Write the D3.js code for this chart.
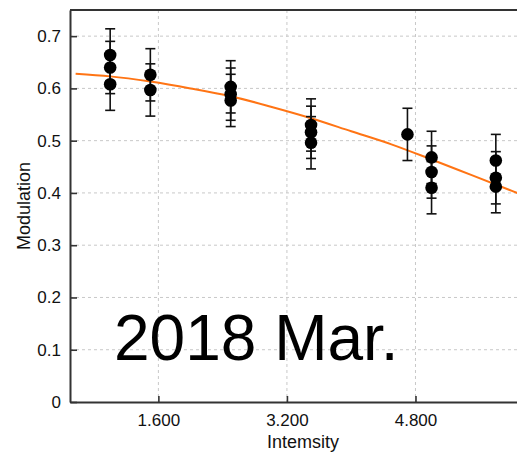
<!DOCTYPE html>
<html>
<head>
<meta charset="utf-8">
<script src="https://cdn.jsdelivr.net/npm/d3@7"></script>
<style>
  html, body { margin: 0; padding: 0; background: #fff; overflow: hidden; }
  svg { display: block; font-family: "Liberation Sans", Arial, sans-serif; }
</style>
</head>
<body>
<svg id="chart" width="517" height="452"></svg>
<script>
// Measured modulation at each intensity (three repeats per intensity, one at 4.7)
const intensity = [1.0, 1.0, 1.0, 1.5, 1.5, 2.5, 2.5, 2.5, 3.5, 3.5, 3.5, 4.7, 5.0, 5.0, 5.0, 5.8, 5.8, 5.8];
const modulation = [0.664, 0.640, 0.608, 0.626, 0.597, 0.603, 0.589, 0.577, 0.530, 0.516, 0.496, 0.512, 0.468, 0.440, 0.410, 0.462, 0.429, 0.412];
const errors = [0.05, 0.05, 0.05, 0.05, 0.05, 0.05, 0.05, 0.05, 0.05, 0.05, 0.05, 0.05, 0.05, 0.05, 0.05, 0.05, 0.05, 0.05];

// Fitted trend, sampled along intensity
const fitX = [0.57, 1.0, 1.5, 2.0, 2.5, 3.0, 3.5, 4.0, 4.5, 5.0, 5.5, 6.0, 6.3];
const fitY = [0.628, 0.623, 0.613, 0.600, 0.585, 0.565, 0.543, 0.518, 0.493, 0.464, 0.434, 0.404, 0.386];

const xTicks = [1.6, 3.2, 4.8];
const yTicks = [0, 0.1, 0.2, 0.3, 0.4, 0.5, 0.6, 0.7];
const annotation = "2018 Mar.";

(function draw() {
  const svg = d3.select("#chart");
  const mLeft = 70, mTop = 10, mRight = 536, mBottom = 402;

  const x = d3.scaleLinear().domain([0.5, 6.3]).range([mLeft, mRight]);
  const y = d3.scaleLinear().domain([0, 0.75]).range([mBottom, mTop]);

  // grid
  const grid = svg.append("g").attr("stroke", "#c8c8c8").attr("stroke-width", 1).attr("stroke-dasharray", "3,3");
  grid.selectAll("line.gx").data(xTicks).join("line").attr("class", "gx")
    .attr("x1", d => x(d)).attr("x2", d => x(d)).attr("y1", mTop).attr("y2", mBottom);
  grid.selectAll("line.gy").data(yTicks.filter(d => d > 0)).join("line").attr("class", "gy")
    .attr("x1", mLeft).attr("x2", mRight).attr("y1", d => y(d)).attr("y2", d => y(d));

  // annotation text
  svg.append("text")
    .attr("x", 114).attr("y", 360)
    .attr("font-size", 64)
    .attr("fill", "#000")
    .text(annotation);

  // fitted curve
  const line = d3.line().x(d => x(d[0])).y(d => y(d[1])).curve(d3.curveMonotoneX);
  svg.append("path")
    .datum(fitX.map((v, i) => [v, fitY[i]]))
    .attr("d", line)
    .attr("fill", "none")
    .attr("stroke", "#ff7414")
    .attr("stroke-width", 2);

  // error bars
  const pts = intensity.map((v, i) => ({ x: v, y: modulation[i], e: errors[i] }));
  const eb = svg.append("g").attr("stroke", "#111").attr("stroke-width", 1.6);
  eb.selectAll("line.v").data(pts).join("line").attr("class", "v")
    .attr("x1", d => x(d.x)).attr("x2", d => x(d.x))
    .attr("y1", d => y(d.y + d.e)).attr("y2", d => y(d.y - d.e));
  eb.selectAll("line.t").data(pts).join("line").attr("class", "t")
    .attr("x1", d => x(d.x) - 5).attr("x2", d => x(d.x) + 5)
    .attr("y1", d => y(d.y + d.e)).attr("y2", d => y(d.y + d.e));
  eb.selectAll("line.b").data(pts).join("line").attr("class", "b")
    .attr("x1", d => x(d.x) - 5).attr("x2", d => x(d.x) + 5)
    .attr("y1", d => y(d.y - d.e)).attr("y2", d => y(d.y - d.e));

  // markers
  svg.append("g").selectAll("circle").data(pts).join("circle")
    .attr("cx", d => x(d.x)).attr("cy", d => y(d.y)).attr("r", 6.3)
    .attr("fill", "#000");

  // axes with inward ticks
  const xAxis = d3.axisBottom(x).tickValues(xTicks).tickSizeInner(-6).tickSizeOuter(0)
    .tickPadding(12).tickFormat(d3.format(".3f"));
  const gx = svg.append("g").attr("transform", `translate(0,${mBottom})`).call(xAxis);
  const yAxis = d3.axisLeft(y).tickValues(yTicks).tickSizeInner(-7).tickSizeOuter(0)
    .tickPadding(9).tickFormat(d => d === 0 ? "0" : d3.format(".1f")(d));
  const gy = svg.append("g").attr("transform", `translate(${mLeft},0)`).call(yAxis);

  [gx, gy].forEach(g => {
    g.select(".domain").attr("stroke", "#333").attr("stroke-width", 2);
    g.selectAll(".tick line").attr("stroke", "#333").attr("stroke-width", 1.6);
    g.selectAll(".tick text").attr("font-size", 17).attr("fill", "#111")
      .attr("font-family", "'Liberation Sans', Arial, sans-serif");
  });

  // top frame line
  svg.append("line").attr("x1", mLeft).attr("x2", mRight).attr("y1", mTop).attr("y2", mTop)
    .attr("stroke", "#333").attr("stroke-width", 2);

  // axis titles
  svg.append("text").attr("x", (mLeft + mRight) / 2).attr("y", 448)
    .attr("text-anchor", "middle").attr("font-size", 18).attr("fill", "#111").text("Intemsity");
  svg.append("text").attr("transform", `translate(30,${(mTop + mBottom) / 2}) rotate(-90)`)
    .attr("text-anchor", "middle").attr("font-size", 18).attr("fill", "#111").text("Modulation");
})();
</script>
</body>
</html>
